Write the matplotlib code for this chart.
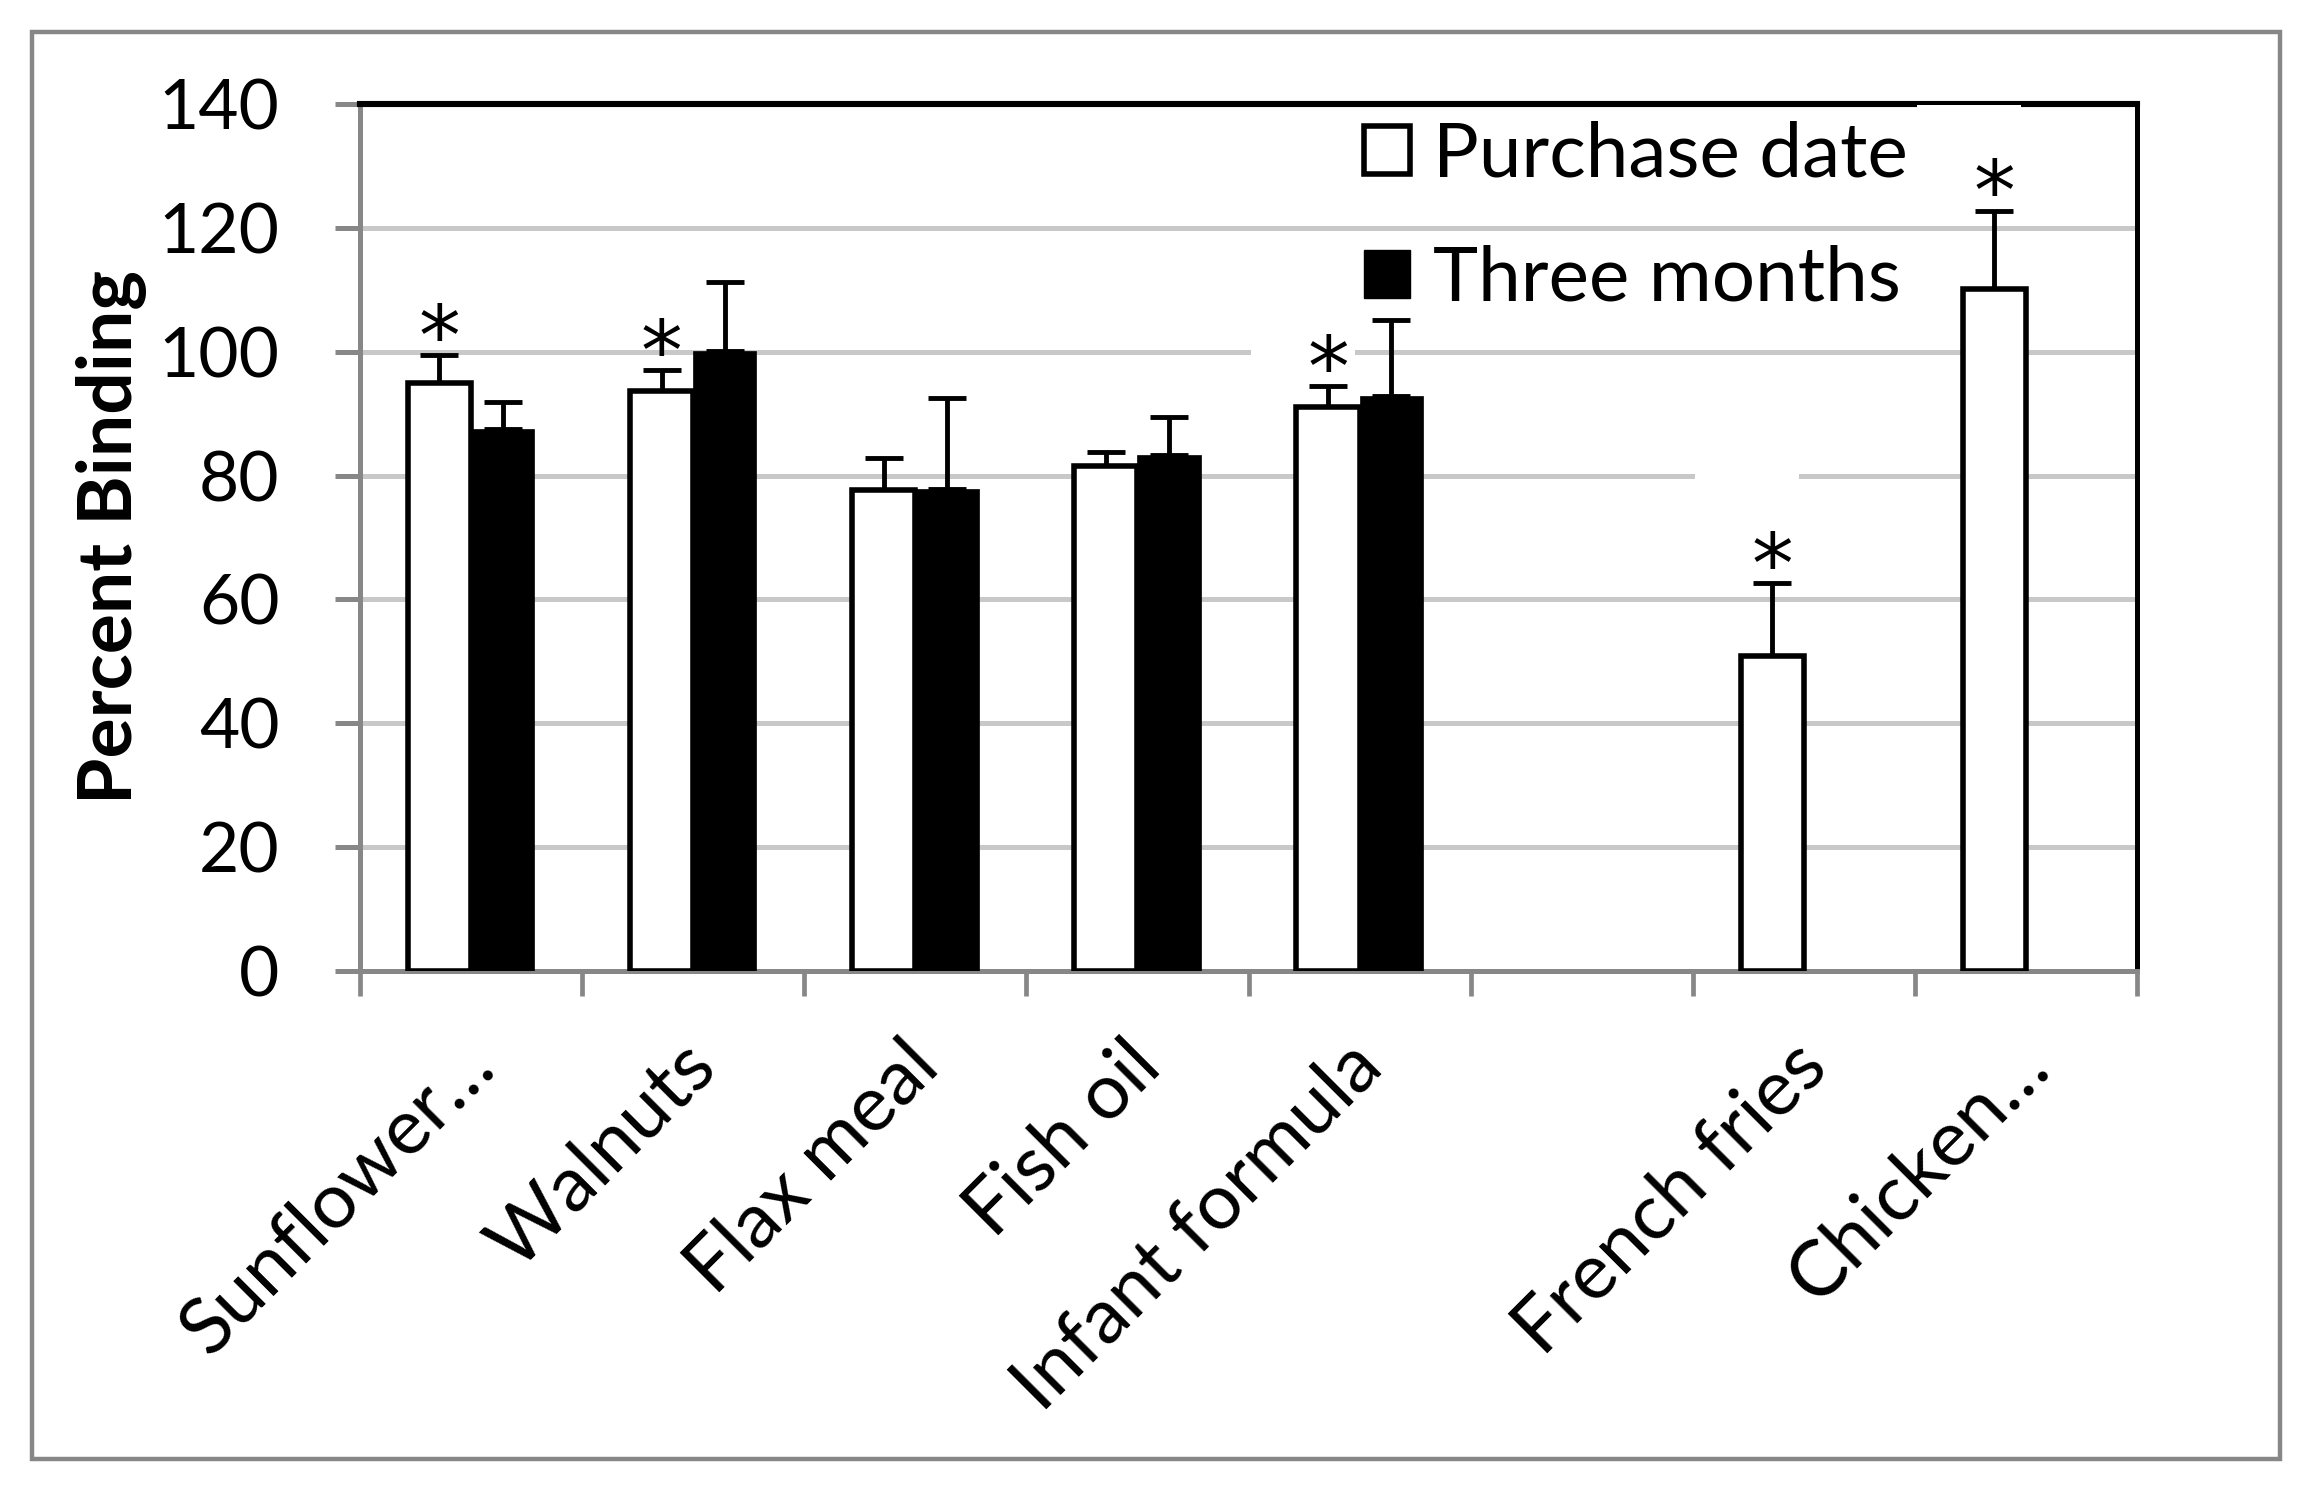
import numpy as np
import matplotlib
matplotlib.use("Agg")
import matplotlib.pyplot as plt
from matplotlib.patches import Patch, Rectangle
from matplotlib.transforms import ScaledTranslation

plt.rcParams['font.family'] = ['Lato', 'DejaVu Sans']

categories = ["Sunflower\u2026", "Walnuts", "Flax meal", "Fish oil", "Infant formula", "", "French fries", "Chicken\u2026"]
purchase = [95.0, 93.6, 77.7, 81.6, 91.0, np.nan, 50.8, 110.2]
purchase_err = [4.5, 3.4, 5.2, 2.2, 3.4, np.nan, 11.8, 12.6]
three_months = [87.6, 100.1, 77.9, 83.3, 92.9, np.nan, np.nan, np.nan]
three_err = [4.2, 11.2, 14.7, 6.1, 12.3, np.nan, np.nan, np.nan]
significant = [True, True, False, False, True, False, True, True]
series_names = ["Purchase date", "Three months"]
yticks = [0, 20, 40, 60, 80, 100, 120, 140]

W, H = 2303, 1489
fig = plt.figure(figsize=(W / 100, H / 100), dpi=100)
fig.patch.set_facecolor('white')
# outer chart border
fig.patches.append(Rectangle((32 / W, 30 / H), (2280 - 32) / W, (1457 - 30) / H,
                             transform=fig.transFigure, fill=False,
                             edgecolor='#878787', linewidth=3.2))

ax = fig.add_axes([360 / W, 1 - 971 / H, (2137 - 360) / W, (971 - 104) / H])

x = np.arange(len(categories))
bw = 0.285
GRAY = '#878787'

ax.bar(x - bw / 2, purchase, bw, color='white', edgecolor='black', linewidth=4.0, zorder=3)
ax.bar(x + bw / 2, three_months, bw, color='black', edgecolor='black', linewidth=0.5, zorder=3)

p = np.array(purchase)
pe = np.array(purchase_err)
t = np.array(three_months)
te = np.array(three_err)
ekw = dict(fmt='none', ecolor='black', elinewidth=3.5, capsize=13.5, capthick=3.5, zorder=2.8)
ax.errorbar(x - bw / 2, p, yerr=[np.zeros_like(pe), pe], **ekw)
ax.errorbar(x + bw / 2, t, yerr=[np.zeros_like(te), te], **ekw)

for xi, v, e, s in zip(x, p, pe, significant):
    if s:
        ax.annotate('*', (xi - bw / 2, v + e), xytext=(0, -7), textcoords='offset points',
                    ha='center', va='baseline', fontsize=60, family='DejaVu Sans', zorder=4)

ax.set_xlim(-0.5, len(categories) - 0.5)
ax.set_ylim(0, 140)
ax.set_yticks(yticks)
ax.set_yticklabels([str(v) for v in yticks], fontsize=50)
ax.yaxis.grid(True, color='#c8c8c8', linewidth=3.6, zorder=0)
ax.set_axisbelow(True)

# white label boxes from the original chart that interrupt grid lines / frame
for cx, cy in [(4, 100), (6, 80)]:
    ax.add_patch(Rectangle((cx - 0.49, cy - 2), 0.47, 4, facecolor='white',
                           edgecolor='none', zorder=1.5))
ax.add_patch(Rectangle((7 - 0.49, 137.5), 0.47, 2.3, facecolor='white',
                       edgecolor='none', zorder=2.7, clip_on=False))

ax.set_xticks(x)
ax.set_xticklabels(categories, fontsize=56, rotation=45, ha='right', va='top',
                   rotation_mode='anchor')
ax.set_xticks(np.arange(len(categories) + 1) - 0.5, minor=True)
ax.tick_params(axis='x', which='major', length=0, pad=42)
ax.tick_params(axis='x', which='minor', length=18, width=3.4, color=GRAY)
ax.tick_params(axis='y', length=18, width=3.6, color=GRAY, pad=40)

ax.spines['left'].set_color(GRAY)
ax.spines['left'].set_linewidth(3.6)
ax.spines['bottom'].set_color(GRAY)
ax.spines['bottom'].set_linewidth(3.6)
ax.spines['top'].set_color('black')
ax.spines['top'].set_linewidth(4.4)
ax.spines['right'].set_color('black')
ax.spines['right'].set_linewidth(3.6)
for sp in ax.spines.values():
    sp.set_zorder(2.6)

ax.set_ylabel("Percent Binding", fontsize=54, fontweight='bold', labelpad=8)

handles = [Patch(facecolor='white', edgecolor='black', linewidth=4.0),
           Patch(facecolor='black', edgecolor='black')]
leg = ax.legend(handles, series_names, loc='upper left', bbox_to_anchor=(0.548, 1.016),
                frameon=False, fontsize=55, handlelength=0.6, handleheight=0.6,
                handletextpad=0.3, labelspacing=0.72, borderaxespad=0)

# small horizontal nudge of category labels (after tick_params, which resets transforms)
shift = ScaledTranslation(-14 / 100, 0, fig.dpi_scale_trans)
for lab in ax.get_xticklabels():
    lab.set_transform(lab.get_transform() + shift)

fig.savefig('out.png', dpi=100, facecolor='white')
